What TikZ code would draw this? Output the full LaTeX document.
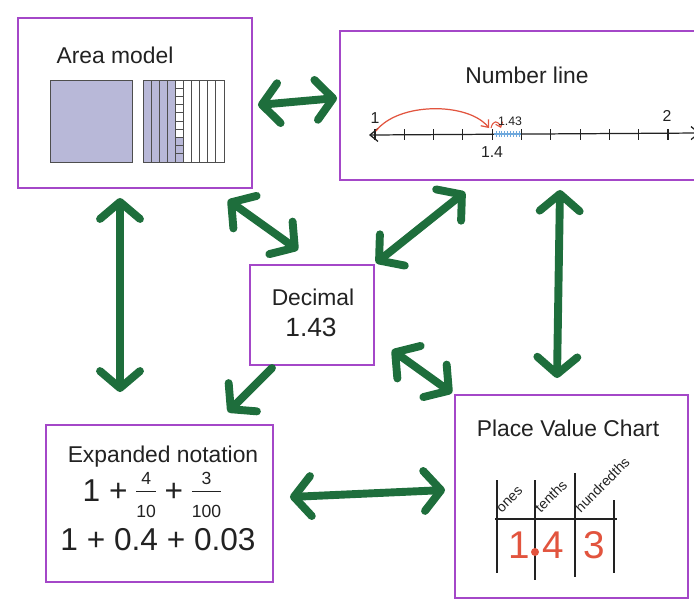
\documentclass[tikz,border=0pt]{standalone}
\usepackage{fontspec}
\setmainfont{Liberation Sans}
\usetikzlibrary{arrows.meta, calc}
\definecolor{mvInk}{HTML}{222222}
\definecolor{mvPurple}{HTML}{A447C8}
\definecolor{mvGreen}{HTML}{1E6E3C}
\definecolor{mvLav}{HTML}{B8B8D8}
\definecolor{mvRed}{HTML}{E2543E}
\definecolor{mvBlue}{HTML}{6FA8DC}
\newcommand{\pvfrac}[2]{\begin{tabular}[c]{@{}c@{}}%
  {\fontsize{10}{10}\selectfont #1}\\[-3pt]\hline\noalign{\vskip0.5pt}%
  {\fontsize{10}{10}\selectfont #2}\end{tabular}}
\tikzset{
  card/.style={draw=mvPurple, line width=1.1pt, fill=white, inner sep=0pt, outer sep=0pt},
  heading/.style={font=\fontsize{13}{15}\selectfont, text=mvInk, inner sep=1pt},
  bigtxt/.style={font=\fontsize{18}{21}\selectfont, text=mvInk, inner sep=1pt},
  small/.style={font=\fontsize{7}{8}\selectfont, text=mvInk, inner sep=1pt},
  colhead/.style={font=\fontsize{8}{9}\selectfont, text=mvInk, inner sep=0.5pt,
    anchor=south west, rotate=45},
  digit/.style={font=\fontsize{22}{24}\selectfont, text=mvRed, inner sep=0pt},
  sq/.style={draw=mvInk!80, line width=0.5pt},
  rule/.style={draw=mvInk, line width=0.9pt},
  link/.style={<->, >={Straight Barb[length=3.4mm,width=8mm,round]},
    line width=4.5pt, draw=mvGreen, line cap=round},
  linkone/.style={link, <-},
}

\begin{document}
\begin{tikzpicture}[x=0.02cm, y=-0.02cm]
  \useasboundingbox (0,0) rectangle (694,600);

  % the five boxes
  \node[card, minimum width=4.68cm, minimum height=3.4cm]  (area)     at (135,103)   {};
  \node[card, minimum width=7.4cm,  minimum height=2.98cm] (numline)  at (525,105.5) {};
  \node[card, minimum width=2.48cm, minimum height=2.0cm]  (decimal)  at (312,315)   {};
  \node[card, minimum width=4.54cm, minimum height=3.14cm] (expanded) at (159.5,503.5) {};
  \node[card, minimum width=4.66cm, minimum height=4.06cm] (placeval) at (571.5,496.5) {};

  % Area model
  \node[heading] (arealbl) at (115,55) {Area model};
  \fill[mvLav] (50,80) rectangle (132,162);
  \draw[sq] (50,80) rectangle (132,162);
  \fill[mvLav] (143,80) rectangle (175.4,162);
  \fill[mvLav] (175.4,137.4) rectangle (183.5,162);
  \draw[sq] (143,80) rectangle (224,162);
  \foreach \i in {1,...,9}
    \draw[sq] ({143+8.1*\i},80) -- ({143+8.1*\i},162);
  \foreach \j in {1,...,9}
    \draw[sq] (175.4,{80+8.2*\j}) -- (183.5,{80+8.2*\j});

  % Number line
  \node[heading] (nllbl) at (527,75) {Number line};
  \draw[line width=0.7pt, draw=mvInk, <->, >={Straight Barb[length=1.6mm,width=2.6mm]}]
    (369,135) -- (700,133);
  \foreach \i in {0,...,10}
    \draw[line width=0.6pt, mvInk] ({375+29.3*\i},129) -- ({375+29.3*\i},140);
  \draw[line width=1.6pt, mvBlue] (494,134) -- (521,134);
  \foreach \j in {1,...,9}
    \draw[line width=0.4pt, mvBlue] ({493+2.93*\j},131) -- ({493+2.93*\j},137);
  \draw[line width=0.7pt, mvRed, -{Straight Barb[length=1.2mm,width=2mm]}]
    (376,131) .. controls (398,102) and (468,102) .. (489,128);
  \draw[line width=0.6pt, mvRed, -{Straight Barb[length=0.9mm,width=1.5mm]}]
    (491,128) .. controls (493,120) and (498,120) .. (501,128);
  \node[small] (nlone)  at (375,118) {\fontsize{9}{10}\selectfont 1};
  \node[small] (nltwo)  at (667,116) {\fontsize{9}{10}\selectfont 2};
  \node[small] (nlmid)  at (510,121) {1.43};
  \node[small] (nlfour) at (492,152) {\fontsize{9}{10}\selectfont 1.4};

  % Decimal
  \node[heading] (declbl) at (313,297) {Decimal};
  \node[heading] (decval) at (311,327) {\fontsize{15}{17}\selectfont 1.43};

  % Expanded notation
  \node[heading] (explbl)  at (163,457) {Expanded notation};
  \node[bigtxt]  (expfrac) at (152,494) {1 + \pvfrac{4}{10} + \pvfrac{3}{100}};
  \node[bigtxt]  (expdec)  at (158,540) {1 + 0.4 + 0.03};

  % Place Value Chart
  \node[heading] (pvlbl) at (568,428) {Place Value Chart};
  \draw[rule] (497,480) -- (497,573);
  \draw[rule] (535,480) -- (535,580);
  \draw[rule] (575,473) -- (575,577);
  \draw[rule] (614,500) -- (614,573);
  \draw[rule] (495,519) -- (617,519);
  \node[colhead] (onesl)   at (502,515) {ones};
  \node[colhead] (tenthsl) at (541,515) {tenths};
  \node[colhead] (hundl)   at (581,515) {hundredths};
  \node[digit] (dig1) at (519,545) {1};
  \node[digit] (dig4) at (553,545) {4};
  \node[digit] (dig3) at (594,545) {3};
  \fill[mvRed] (535,552) circle (4);

  % connectors
  \draw[link] ($(area.east)+(6,2)$) -- ($(numline.west)+(-3,-7.5)$);
  \draw[link] ($(area.south)+(-15,10)$) -- ($(expanded.north)+(-39.5,-33)$);
  \draw[link] ($(area.south east)+(-24,12)$) -- ($(decimal.north)+(-14,-15)$);
  \draw[link] ($(numline.south)+(-60,12)$) -- ($(decimal.north east)+(2,-2)$);
  \draw[link] ($(numline.south)+(35,10)$) -- ($(placeval.north)+(-14.5,-17)$);
  \draw[link] ($(decimal.south east)+(18,-15)$) -- ($(placeval.north west)+(-3,-2)$);
  \draw[linkone] ($(expanded.north east)+(-45,-13)$) -- ($(decimal.south)+(-40,3)$);
  \draw[link] ($(expanded.east)+(17,-6.5)$) -- ($(placeval.west)+(-10,-6.5)$);
\end{tikzpicture}
\end{document}
